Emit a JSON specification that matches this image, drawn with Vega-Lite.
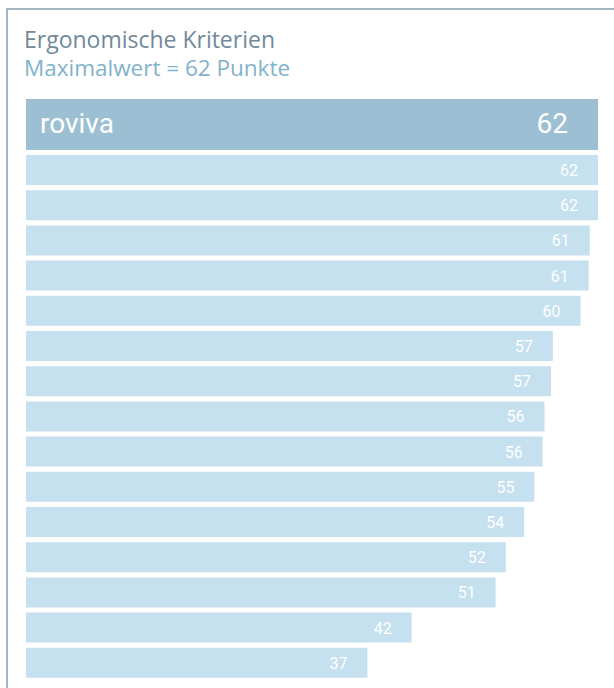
{
  "$schema": "https://vega.github.io/schema/vega-lite/v6.json",
  "autosize": {"type": "none"},
  "padding": {"left": 7, "top": 9, "right": 0, "bottom": 0},
  "background": "#ffffff",
  "width": 620,
  "height": {"step": 35.2},
  "title": {
    "text": "Ergonomische Kriterien",
    "subtitle": "Maximalwert = 62 Punkte",
    "anchor": "start",
    "frame": "group",
    "orient": "top",
    "offset": -72,
    "dx": 17,
    "font": "Open Sans",
    "fontSize": 23,
    "fontWeight": "normal",
    "color": "#71899a",
    "subtitleFont": "Open Sans",
    "subtitleFontSize": 22.5,
    "subtitleColor": "#7fb2cb",
    "subtitlePadding": 5
  },
  "data": {
    "values": [
      {"rang": 1, "name": "roviva", "punkte": 62.0},
      {"rang": 2, "name": "", "punkte": 62.0},
      {"rang": 3, "name": "", "punkte": 62.0},
      {"rang": 4, "name": "", "punkte": 61.1},
      {"rang": 5, "name": "", "punkte": 61.0},
      {"rang": 6, "name": "", "punkte": 60.1},
      {"rang": 7, "name": "", "punkte": 57.1},
      {"rang": 8, "name": "", "punkte": 56.9},
      {"rang": 9, "name": "", "punkte": 56.2},
      {"rang": 10, "name": "", "punkte": 56.0},
      {"rang": 11, "name": "", "punkte": 55.1},
      {"rang": 12, "name": "", "punkte": 54.0},
      {"rang": 13, "name": "", "punkte": 52.0},
      {"rang": 14, "name": "", "punkte": 50.9},
      {"rang": 15, "name": "", "punkte": 41.8},
      {"rang": 16, "name": "", "punkte": 37.0}
    ]
  },
  "encoding": {
    "y": {
      "field": "rang",
      "type": "ordinal",
      "axis": null,
      "scale": {
        "domain": [-1, 0, 1, 2, 3, 4, 5, 6, 7, 8, 9, 10, 11, 12, 13, 14, 15, 16],
        "paddingInner": 0.1477,
        "paddingOuter": 0.8,
        "align": 0.7175
      }
    },
    "x": {
      "field": "punkte",
      "type": "quantitative",
      "axis": null,
      "scale": {"domain": [-2.06, 65.14], "nice": false, "zero": false}
    }
  },
  "layer": [
    {
      "transform": [{"filter": "datum.rang > 1"}],
      "mark": {"type": "bar", "color": "#c5e0ee"}
    },
    {
      "transform": [{"filter": "datum.rang == 1"}],
      "mark": {"type": "bar", "color": "#9dbfd3", "height": 51, "yOffset": -10.3}
    },
    {
      "transform": [{"filter": "datum.rang > 1"}],
      "mark": {"type": "text", "align": "right", "baseline": "middle", "dx": -20, "dy": 1, "font": "Roboto", "fontSize": 16, "color": "#ffffff"},
      "encoding": {"text": {"field": "punkte", "type": "quantitative", "format": ".0f"}}
    },
    {
      "transform": [{"filter": "datum.rang == 1"}],
      "mark": {"type": "text", "align": "right", "baseline": "middle", "dx": -30, "yOffset": -10.3, "font": "Roboto", "fontSize": 28, "color": "#ffffff"},
      "encoding": {"text": {"field": "punkte", "type": "quantitative", "format": ".0f"}}
    },
    {
      "transform": [{"filter": "datum.rang == 1"}],
      "mark": {"type": "text", "align": "left", "baseline": "middle", "dx": 14, "yOffset": -10.3, "font": "Roboto", "fontSize": 28, "color": "#ffffff"},
      "encoding": {
        "x": {"datum": 0, "type": "quantitative"},
        "text": {"field": "name", "type": "nominal"}
      }
    }
  ],
  "config": {
    "view": {"stroke": "#a3b5c1", "strokeWidth": 2, "fill": null}
  }
}
